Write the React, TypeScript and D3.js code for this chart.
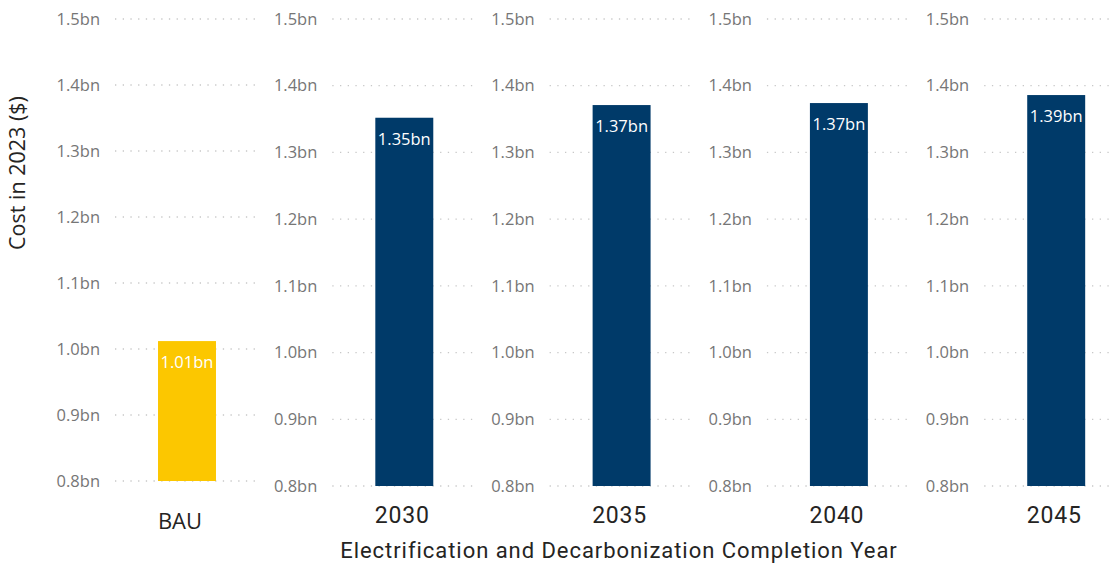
import React from "react";
import * as d3 from "d3";

const categories = ["BAU", "2030", "2035", "2040", "2045"];
const costs = [1.012, 1.352, 1.371, 1.374, 1.386];
const valueLabels = ["1.01bn", "1.35bn", "1.37bn", "1.37bn", "1.39bn"];
const yTicks = [0.8, 0.9, 1.0, 1.1, 1.2, 1.3, 1.4, 1.5];
const xTitle = "Electrification and Decarbonization Completion Year";
const yTitle = "Cost in 2023 ($)";

const W = 1120;
const H = 565;
const PANEL_STEP = 217.3;
const FIRST_X = 100;
const GRAY = "#767676";
const DARK = "#252423";
const SANS = "'Segoe UI', 'Open Sans', 'Noto Sans', sans-serif";
const DIN = "'Roboto', 'DejaVu Sans', sans-serif";

export default function App() {
  const panelScale = d3
    .scaleBand<string>()
    .domain(categories)
    .range([FIRST_X, FIRST_X + PANEL_STEP * categories.length]);

  return (
    <svg
      width={W}
      height={H}
      style={{ position: "absolute", left: 0, top: 0, background: "#fff" }}
    >
      {categories.map((cat, i) => {
        const x0 = panelScale(cat)!;
        const isBau = i === 0;
        const bottom = isBau ? 481 : 486;
        const y = d3.scaleLinear().domain([0.8, 1.5]).range([bottom, 19]);
        const inner = d3
          .scaleBand<string>()
          .domain([cat])
          .range([x0 + 15, x0 + 159])
          .padding(0.426);
        const bx = inner(cat)!;
        const bw = inner.bandwidth();
        const gridEnd = Math.min(x0 + 155, W - 6);
        return (
          <g key={cat}>
            {yTicks.map((t) => (
              <g key={t}>
                <line
                  x1={x0 + 15}
                  x2={gridEnd}
                  y1={y(t)}
                  y2={y(t)}
                  stroke="#c8c8c8"
                  strokeWidth={1.3}
                  strokeDasharray="1.3 6.4"
                />
                <text
                  x={x0}
                  y={y(t)}
                  dy="0.35em"
                  textAnchor="end"
                  fontFamily={SANS}
                  fontSize={16.5}
                  fill={GRAY}
                >
                  {d3.format(".1f")(t) + "bn"}
                </text>
              </g>
            ))}
            <rect
              x={bx}
              y={y(costs[i])}
              width={bw}
              height={y(0.8) - y(costs[i])}
              fill={isBau ? "#FCC700" : "#003A69"}
            />
            <text
              x={bx + bw / 2}
              y={y(costs[i]) + 27}
              textAnchor="middle"
              fontFamily={SANS}
              fontSize={16.5}
              fill="#ffffff"
            >
              {valueLabels[i]}
            </text>
            <text
              x={isBau ? bx + bw / 2 - 7 : bx + bw / 2 - 2}
              y={isBau ? 521 : 515}
              dy="0.36em"
              textAnchor="middle"
              fontFamily={isBau ? SANS : DIN}
              fontSize={isBau ? 22 : 23}
              letterSpacing={isBau ? 0 : 0.8}
              fill={DARK}
            >
              {cat}
            </text>
          </g>
        );
      })}
      <text
        x={619}
        y={550}
        dy="0.36em"
        textAnchor="middle"
        fontFamily={DIN}
        fontSize={22}
        letterSpacing={0.95}
        fill={DARK}
      >
        {xTitle}
      </text>
      <text
        transform="translate(17,173) rotate(-90)"
        dy="0.36em"
        textAnchor="middle"
        fontFamily={SANS}
        fontSize={21.5}
        fontWeight={500}
        fill={DARK}
      >
        {yTitle}
      </text>
    </svg>
  );
}
